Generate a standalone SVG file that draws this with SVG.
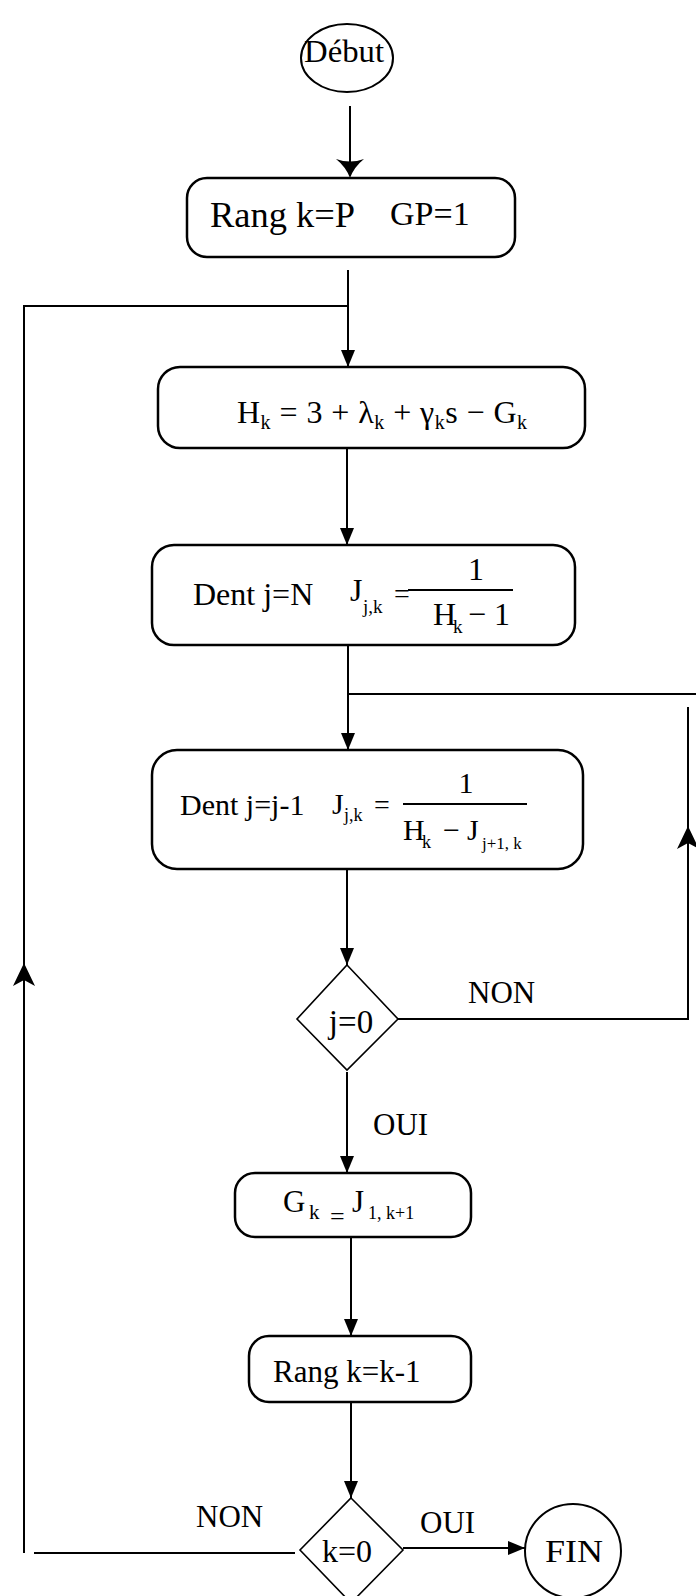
<svg xmlns="http://www.w3.org/2000/svg" width="696" height="1596" viewBox="0 0 696 1596">
<style>
.box{fill:#fff;stroke:#000;stroke-width:2.5}
.dia{fill:#fff;stroke:#000;stroke-width:1.6}
.ln{fill:none;stroke:#000;stroke-width:2}
.t{font-family:"Liberation Serif","Times New Roman",serif;fill:#000}
.ah{fill:#000;stroke:none}
</style>
<defs>
<marker id="arr" markerUnits="userSpaceOnUse" markerWidth="17" markerHeight="16" viewBox="0 0 17 16" refX="17" refY="8" orient="auto">
<path d="M0,1 L17,8 L0,15 Z" class="ah"/>
</marker>
</defs>
<rect width="696" height="1596" fill="#fff"/>
<g id="connectors">
<line class="ln" x1="350" y1="106" x2="350" y2="164"/>
<path class="ah" d="M336,159 Q350,164 364,159 Q354,167 350,178 Q346,167 336,159 Z"/>
<line class="ln" x1="348" y1="270" x2="348" y2="367" marker-end="url(#arr)"/>
<polyline class="ln" points="348,306 24,306 24,1553"/>
<path class="ah" d="M24,963 L35,986 L24,980 L13,986 Z"/>
<line class="ln" x1="347" y1="448" x2="347" y2="545" marker-end="url(#arr)"/>
<line class="ln" x1="348" y1="645" x2="348" y2="750" marker-end="url(#arr)"/>
<line class="ln" x1="349" y1="694" x2="696" y2="694"/>
<polyline class="ln" points="398,1019 688,1019 688,707"/>
<path class="ah" d="M688,826 L699,849 L688,843 L677,849 Z"/>
<line class="ln" x1="347" y1="869" x2="347" y2="965" marker-end="url(#arr)"/>
<line class="ln" x1="347" y1="1072" x2="347" y2="1173" marker-end="url(#arr)"/>
<line class="ln" x1="351" y1="1237" x2="351" y2="1336" marker-end="url(#arr)"/>
<line class="ln" x1="351" y1="1402" x2="351" y2="1498" marker-end="url(#arr)"/>
<line class="ln" x1="403" y1="1548" x2="525" y2="1548" marker-end="url(#arr)"/>
<line class="ln" x1="295" y1="1553" x2="34" y2="1553"/>
</g>
<g id="debut">
<ellipse class="box" cx="347" cy="58" rx="46" ry="34" style="stroke-width:2"/>
<text class="t" x="344" y="62" font-size="31" text-anchor="middle" textLength="80" lengthAdjust="spacingAndGlyphs">Début</text>
</g>
<g id="rang-init">
<rect class="box" x="187" y="178" width="328" height="79" rx="20"/>
<text class="t" x="210" y="227" font-size="35" textLength="145" lengthAdjust="spacingAndGlyphs">Rang k=P</text>
<text class="t" x="390" y="225" font-size="34">GP=1</text>
</g>
<g id="hk">
<rect class="box" x="158" y="367" width="427" height="81" rx="22"/>
<text class="t" x="237" y="423" font-size="32" textLength="290" lengthAdjust="spacing">H<tspan font-size="20" dy="6">k</tspan><tspan dy="-6"> = 3 + λ</tspan><tspan font-size="20" dy="6">k</tspan><tspan dy="-6"> + γ</tspan><tspan font-size="20" dy="6">k</tspan><tspan dy="-6">s − G</tspan><tspan font-size="20" dy="6">k</tspan></text>
</g>
<g id="dent-n">
<rect class="box" x="152" y="545" width="423" height="100" rx="22"/>
<text class="t" x="193" y="605" font-size="32">Dent j=N</text>
<text class="t" x="350" y="601" font-size="32">J</text>
<text class="t" x="363" y="613" font-size="19">j,k</text>
<text class="t" x="394" y="603" font-size="28">=</text>
<line x1="408" y1="590" x2="513" y2="590" stroke="#000" stroke-width="2"/>
<text class="t" x="476" y="580" font-size="32" text-anchor="middle">1</text>
<text class="t" x="433" y="625" font-size="32">H</text>
<text class="t" x="453" y="633" font-size="19">k</text>
<text class="t" x="468" y="625" font-size="32">− 1</text>
</g>
<g id="dent-j">
<rect class="box" x="152" y="750" width="431" height="119" rx="25"/>
<text class="t" x="180" y="815" font-size="30">Dent j=j-1</text>
<text class="t" x="332" y="814" font-size="30">J</text>
<text class="t" x="344" y="821" font-size="18">j,k</text>
<text class="t" x="374" y="814" font-size="28">=</text>
<line x1="403" y1="804" x2="527" y2="804" stroke="#000" stroke-width="2"/>
<text class="t" x="466" y="793" font-size="30" text-anchor="middle">1</text>
<text class="t" x="403" y="840" font-size="30">H</text>
<text class="t" x="422" y="848" font-size="18">k</text>
<text class="t" x="443" y="840" font-size="30">−</text>
<text class="t" x="467" y="840" font-size="30">J</text>
<text class="t" x="482" y="849" font-size="17">j+1, k</text>
</g>
<g id="test-j">
<polygon class="dia" points="347,965 398,1019 347,1070 297,1019"/>
<text class="t" x="351" y="1033" font-size="33" text-anchor="middle">j=0</text>
<text class="t" x="468" y="1003" font-size="31">NON</text>
<text class="t" x="373" y="1135" font-size="31">OUI</text>
</g>
<g id="gk">
<rect class="box" x="235" y="1173" width="236" height="64" rx="20"/>
<text class="t" x="283" y="1212" font-size="31">G</text>
<text class="t" x="309" y="1219" font-size="21">k</text>
<text class="t" x="330" y="1225" font-size="26">=</text>
<text class="t" x="352" y="1212" font-size="31">J</text>
<text class="t" x="368" y="1219" font-size="18">1, k+1</text>
</g>
<g id="rang-dec">
<rect class="box" x="249" y="1336" width="222" height="66" rx="20"/>
<text class="t" x="273" y="1382" font-size="31">Rang k=k-1</text>
</g>
<g id="test-k">
<polygon class="dia" points="351,1498 403,1550 351,1603 300,1550"/>
<text class="t" x="347" y="1562" font-size="32" text-anchor="middle">k=0</text>
<text class="t" x="420" y="1533" font-size="31">OUI</text>
<text class="t" x="196" y="1527" font-size="31">NON</text>
</g>
<g id="fin">
<ellipse class="box" cx="573" cy="1551" rx="48" ry="47" style="stroke-width:2"/>
<text class="t" x="574" y="1562" font-size="32" text-anchor="middle" textLength="58" lengthAdjust="spacingAndGlyphs">FIN</text>
</g>
</svg>
